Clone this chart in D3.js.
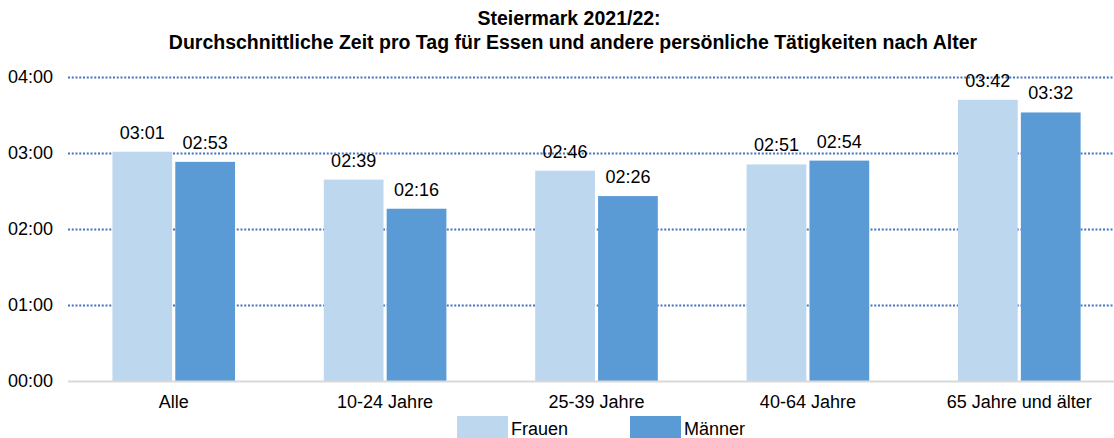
<!DOCTYPE html>
<html><head><meta charset="utf-8">
<script src="https://cdn.jsdelivr.net/npm/d3@7"></script>
<style>body{margin:0;background:#fff}svg{display:block}text{font-family:"Liberation Sans",Arial,sans-serif;fill:#000}</style>
</head><body><svg id="c" width="1114" height="438"></svg>
<script>
const categories = ["Alle","10-24 Jahre","25-39 Jahre","40-64 Jahre","65 Jahre und älter"];
const seriesNames = ["Frauen","Männer"];
const frauen = [181,159,166,171,222]; // minutes
const maenner = [173,136,146,174,212];
const yTicks = [0,60,120,180,240];
const colors = ["#BDD7EE","#5B9BD5"];

const svg = d3.select("#c");
const fmt = m => String(Math.floor(m/60)).padStart(2,"0")+":"+String(m%60).padStart(2,"0");
const y = d3.scaleLinear().domain([0,240]).range([381,77]);
const x = d3.scaleBand().domain(categories).range([68,1125]).paddingInner(0.42).paddingOuter(0.21);
const xs = d3.scaleBand().domain(seriesNames).range([0,x.bandwidth()]).paddingInner(0.05);

svg.append("text").attr("x",569).attr("y",25).attr("text-anchor","middle").attr("font-weight","bold").attr("font-size",19.5).text("Steiermark 2021/22:");
svg.append("text").attr("x",573).attr("y",49).attr("text-anchor","middle").attr("font-weight","bold").attr("font-size",19.5).text("Durchschnittliche Zeit pro Tag für Essen und andere persönliche Tätigkeiten nach Alter");

const yAxis = svg.append("g").attr("transform","translate(68,0)")
  .call(d3.axisLeft(y).tickValues(yTicks).tickFormat(fmt).tickSize(-1046).tickPadding(15));
yAxis.select(".domain").remove();
yAxis.selectAll(".tick line").attr("stroke","#4472C4").attr("stroke-width",2).attr("stroke-dasharray","2,1.75")
  .filter(d=>d===0).remove();
yAxis.selectAll(".tick text").attr("font-size",18).attr("font-family","Liberation Sans, Arial, sans-serif").attr("fill","#000");

const data = categories.map((c,i)=>({c, vals:[frauen[i],maenner[i]]}));
const g = svg.append("g").selectAll("g").data(data).join("g").attr("transform",d=>`translate(${x(d.c)},0)`);
g.selectAll("rect").data(d=>d.vals.map((v,j)=>({s:seriesNames[j],v,j}))).join("rect")
  .attr("x",d=>xs(d.s)).attr("width",xs.bandwidth()).attr("y",d=>y(d.v)).attr("height",d=>y(0)-y(d.v)).attr("fill",d=>colors[d.j]);
g.selectAll("text").data(d=>d.vals.map((v,j)=>({s:seriesNames[j],v,j}))).join("text")
  .attr("x",d=>xs(d.s)+xs.bandwidth()/2).attr("y",d=>y(d.v)-13).attr("text-anchor","middle").attr("font-size",18).text(d=>fmt(d.v));

svg.append("line").attr("x1",68).attr("x2",1114).attr("y1",y(0)+0.5).attr("y2",y(0)+0.5).attr("stroke","#D9D9D9").attr("stroke-width",2);

const xAxis = svg.append("g").attr("transform",`translate(0,${y(0)})`).call(d3.axisBottom(x).tickSize(0).tickPadding(14));
xAxis.select(".domain").remove();
xAxis.selectAll("text").attr("font-size",18).attr("font-family","Liberation Sans, Arial, sans-serif").attr("fill","#000");

const legend = svg.append("g");
const lx = [457,630];
seriesNames.forEach((s,i)=>{
  legend.append("rect").attr("x",lx[i]).attr("y",416).attr("width",51).attr("height",22).attr("fill",colors[i]);
  legend.append("text").attr("x",lx[i]+54).attr("y",435).attr("font-size",18).text(s);
});
</script></body></html>
